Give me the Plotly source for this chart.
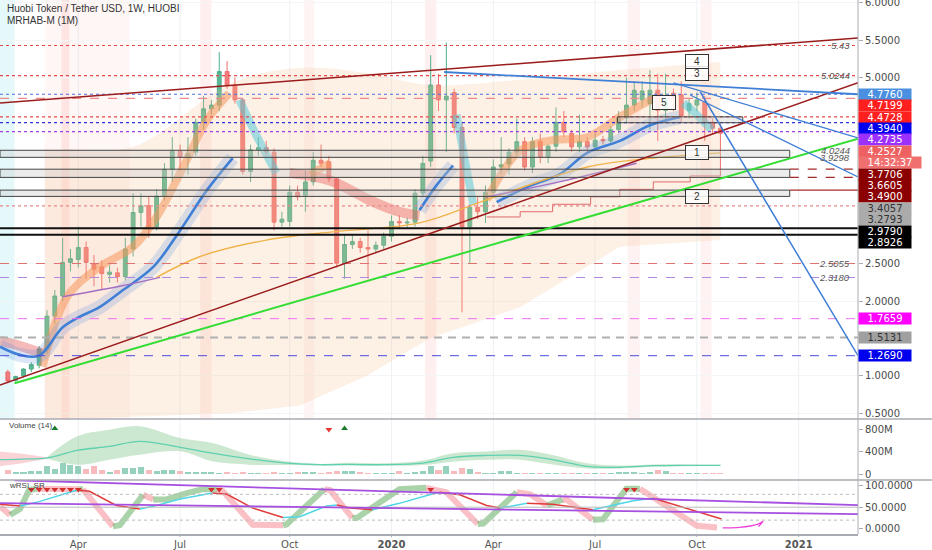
import pandas as pd
import plotly.graph_objects as go

# ---------------- weekly candles HT/USDT (Huobi) ----------------
candle_dates = pd.date_range('2019-01-28', periods=92, freq='7D')
opens = [1.05, 0.94, 1.00, 1.09, 1.14, 1.35, 1.80, 2.07, 2.52, 2.56,
         2.72, 2.50, 2.46, 2.36, 2.38, 2.33, 2.70, 3.19, 3.28, 3.00,
         3.41, 3.77, 4.01, 3.93, 4.00, 4.40, 4.58, 4.63, 5.08, 4.90,
         4.70, 3.74, 4.03, 4.06, 4.00, 3.06, 3.07, 3.46, 3.42, 3.60,
         3.89, 3.87, 3.64, 2.51, 2.76, 2.80, 2.72, 2.70, 2.75, 2.87,
         3.07, 3.05, 3.06, 3.45, 3.88, 4.90, 4.70, 4.80, 4.33, 3.00,
         3.26, 3.20, 3.46, 3.80, 3.84, 4.00, 4.14, 3.80, 4.14, 3.93,
         4.08, 4.40, 4.25, 4.07, 4.14, 4.07, 4.17, 4.15, 4.30, 4.46,
         4.63, 4.70, 4.65, 4.83, 4.56, 4.79, 4.77, 4.56, 4.63, 4.67,
         4.40, 4.32]
highs = [1.08, 1.00, 1.10, 1.18, 1.40, 1.88, 2.15, 2.85, 2.70, 3.00,
         2.80, 2.62, 2.55, 2.48, 2.45, 2.85, 3.45, 3.45, 3.40, 3.50,
         3.85, 4.20, 4.10, 4.20, 4.45, 4.75, 4.70, 5.34, 5.22, 5.00,
         4.72, 4.10, 4.20, 4.15, 4.05, 3.20, 3.55, 3.55, 3.75, 4.00,
         4.10, 3.95, 3.66, 2.90, 2.90, 2.85, 2.95, 2.80, 2.92, 3.15,
         3.15, 3.12, 3.50, 3.95, 5.30, 5.05, 5.47, 4.85, 4.40, 3.30,
         3.40, 3.55, 3.90, 4.20, 4.05, 4.45, 4.20, 4.20, 4.25, 4.10,
         4.60, 4.55, 4.30, 4.50, 4.20, 4.25, 4.22, 4.35, 4.55, 5.00,
         4.95, 4.95, 5.10, 5.05, 5.05, 4.85, 4.95, 4.72, 4.80, 4.75,
         4.45, 4.38]
lows = [0.90, 0.92, 0.98, 1.05, 1.10, 1.30, 1.70, 2.00, 2.40, 2.45,
        2.30, 2.20, 2.15, 2.25, 2.25, 2.28, 2.60, 3.00, 2.85, 2.95,
        3.35, 3.60, 3.75, 3.70, 3.95, 4.30, 4.50, 4.55, 4.85, 4.65,
        3.70, 3.60, 3.95, 3.95, 2.95, 3.00, 3.00, 3.35, 3.20, 3.55,
        3.80, 3.60, 2.45, 2.30, 2.70, 2.65, 2.30, 2.65, 2.70, 2.80,
        2.98, 2.98, 3.00, 3.40, 3.80, 4.55, 4.00, 4.25, 1.85, 2.50,
        3.10, 3.05, 3.40, 3.70, 3.70, 3.95, 3.75, 3.72, 3.85, 3.85,
        4.00, 4.20, 4.00, 4.00, 4.00, 4.02, 4.10, 4.12, 4.25, 4.40,
        4.55, 4.60, 4.30, 4.15, 4.40, 4.55, 4.40, 4.45, 4.55, 4.15,
        4.25, 3.68]
closes = [0.93, 0.99, 1.09, 1.15, 1.36, 1.80, 2.07, 2.52, 2.57, 2.72,
          2.52, 2.43, 2.37, 2.39, 2.33, 2.70, 3.19, 3.28, 3.00, 3.41,
          3.77, 4.01, 3.93, 3.98, 4.40, 4.58, 4.63, 5.08, 4.90, 4.70,
          3.74, 4.03, 4.06, 4.00, 3.06, 3.10, 3.46, 3.40, 3.60, 3.89,
          3.85, 3.65, 2.51, 2.76, 2.80, 2.72, 2.70, 2.75, 2.87, 3.07,
          3.05, 3.06, 3.45, 3.85, 4.90, 4.70, 4.75, 4.33, 3.00, 3.26,
          3.20, 3.46, 3.80, 3.83, 4.00, 4.14, 3.80, 4.14, 3.93, 4.08,
          4.40, 4.27, 4.07, 4.14, 4.07, 4.16, 4.15, 4.30, 4.46, 4.63,
          4.83, 4.82, 4.83, 4.56, 4.70, 4.73, 4.49, 4.65, 4.70, 4.40,
          4.32, 4.2527]
volumes_m = [65, 35, 35, 60, 60, 135, 95, 195, 165, 135,
             95, 135, 75, 35, 75, 105, 105, 125, 75, 47,
             65, 65, 53, 35, 35, 30, 30, 18, 30, 18,
             35, 25, 25, 25, 35, 25, 25, 35, 35, 35,
             25, 30, 47, 60, 47, 30, 18, 18, 18, 25,
             47, 18, 35, 47, 135, 75, 135, 47, 105, 90,
             30, 24, 24, 47, 47, 24, 12, 12, 12, 12,
             24, 12, 12, 12, 12, 12, 12, 24, 35, 35,
             30, 24, 35, 65, 47, 24, 18, 18, 18, 18,
             18, 18]

# ---------------- overlay indicators ----------------
band_dates = ['2019-03-02', '2019-03-22', '2019-05-20', '2019-08-17', '2019-10-16',
              '2019-12-15', '2020-02-09', '2020-04-30', '2020-07-28', '2020-10-26']
band_upper = [4.03, 4.03, 4.07, 4.93, 5.13, 5.06, 4.90, 4.97, 5.10, 5.21]
band_lower = [0.42, 0.42, 0.45, 0.50, 0.60, 1.00, 1.50, 1.92, 2.73, 2.82]

blue_dates = ['2019-01-21', '2019-02-08', '2019-02-25', '2019-03-18', '2019-04-02', '2019-04-20',
              '2019-05-11', '2019-06-07', '2019-07-01', '2019-07-25', '2019-08-17', None,
              '2020-01-31', '2020-02-15', '2020-03-01', None,
              '2020-04-09', '2020-05-09', '2020-06-04', '2020-06-29', '2020-07-28', '2020-08-24', '2020-09-20']
blue_ma = [1.39, 1.28, 1.27, 1.65, 1.79, 1.92, 2.15, 2.46, 2.95, 3.49, 3.92, None,
           3.22, 3.55, 3.82, None,
           3.33, 3.55, 3.70, 3.99, 4.15, 4.36, 4.47]

orange_dates = ['2019-02-28', '2019-03-22', '2019-04-20', '2019-05-20', '2019-06-10', '2019-07-07',
                '2019-07-25', '2019-08-14', None, '2019-10-25', '2019-11-12', None,
                '2020-03-31', '2020-04-30', '2020-05-29', '2020-06-29', '2020-07-28', '2020-08-27']
orange_ma = [1.12, 2.06, 2.46, 2.73, 3.13, 3.90, 4.43, 4.79, None, 3.70, 3.85, None,
             3.36, 4.02, 4.16, 4.20, 4.47, 4.72]

cyan_dates = ['2019-08-23', '2019-09-08', '2019-09-25', None, '2020-03-04', '2020-03-19', None,
              '2020-09-23', '2020-10-05', '2020-10-18']
cyan_ma = [4.70, 4.20, 3.72, None, 4.50, 3.30, None, 4.66, 4.50, 4.30]

red_dates = ['2019-01-21', '2019-02-08', '2019-02-28', None,
             '2019-10-07', '2019-11-12', '2019-12-18', '2020-01-13', '2020-01-31']
red_ma = [1.47, 1.40, 1.30, None, 3.72, 3.62, 3.35, 3.20, 3.15]

yellow_dates = ['2019-06-10', '2019-07-19', '2019-09-16', '2019-11-14', '2020-01-31',
                '2020-03-31', '2020-06-29', '2020-08-27', '2020-10-26']
yellow_ma = [2.32, 2.60, 2.82, 2.93, 3.05, 3.36, 3.80, 3.92, 3.99]

purple_dates = ['2019-03-18', '2019-05-08', '2019-06-13', None, '2020-03-31', '2020-06-04', '2020-08-12']
purple_ma = [2.06, 2.20, 2.32, None, 3.40, 3.60, 3.85]

step_dates = ['2020-03-31', '2020-04-30', '2020-05-29', '2020-07-02', '2020-07-28',
              '2020-08-27', '2020-09-29', '2020-10-26']
step_line = [3.13, 3.20, 3.30, 3.40, 3.50, 3.60, 3.68, 3.72]

# ---------------- drawings ----------------
level_values = [5.43, 5.0244, 4.7760, 4.7199, 4.4728, 4.3940, 4.2735, 3.2793,
                2.9790, 2.8926, 2.5055, 2.3180, 1.7659, 1.5131, 1.2690]
box_levels = [(4.0244, 3.9298), (3.7706, 3.6605), (3.4900, 3.4057)]
trend_lines = [  # (date0, value0, date1, value1)
    ('2019-01-21', 4.66, '2021-02-26', 5.53),
    ('2019-01-21', 0.876, '2021-02-26', 4.93),
    ('2019-02-03', 0.90, '2021-02-26', 4.18),
    ('2020-02-22', 5.074, '2021-02-26', 4.776),
    ('2020-09-14', 4.93, '2021-02-26', 4.19),
    ('2020-09-29', 4.766, '2021-02-26', 3.666),
    ('2020-10-08', 4.806, '2021-02-26', 1.269),
]
callout_text = ['1', '2', '3', '4', '5']
callout_dates = ['2020-10-05', '2020-10-05', '2020-10-05', '2020-10-05', '2020-09-06']
callout_values = [4.00, 3.41, 5.05, 5.21, 4.67]
note_text = ['5.43', '5.0244', '4.0244', '3.9298', '2.5055', '2.3180']

tag_text = ['4.7760', '4.7199', '4.4728', '4.3940', '4.2735', '4.2527', '14:32:37',
            '3.7706', '3.6605', '3.4900', '3.4057', '3.2793', '2.9790', '2.8926',
            '1.7659', '1.5131', '1.2690']
tag_values = [4.7760, 4.7199, 4.4728, 4.3940, 4.2735, 4.2527, 4.2527,
              3.7706, 3.6605, 3.4900, 3.4057, 3.2793, 2.9790, 2.8926,
              1.7659, 1.5131, 1.2690]

# ---------------- volume MA ----------------
vma_dates = ['2019-01-21', '2019-02-10', '2019-03-04', '2019-03-31', '2019-04-29', '2019-05-26',
             '2019-07-01', '2019-07-30', '2019-09-01', '2019-10-04', '2019-11-03', '2019-11-27',
             '2019-12-29', '2020-02-03', '2020-03-01', '2020-03-31', '2020-04-30', '2020-05-29',
             '2020-06-29', '2020-07-28', '2020-08-27', '2020-09-26', '2020-10-26']
vma = [255, 265, 285, 420, 490, 580, 475, 370, 270, 195, 165, 170, 165, 195, 296, 330, 330,
       255, 136, 120, 148, 155, 155]
vma_upper = [400, 360, 300, 670, 788, 850, 640, 551, 343, 225, 180, 200, 190, 240, 370, 400,
             430, 340, 190, 150, 170, 170, 165]
vma_lower = [137, 190, 270, 165, 255, 343, 403, 225, 166, 160, 150, 150, 145, 160, 220, 255,
             255, 170, 100, 100, 130, 140, 145]

# ---------------- wRSI_SR ----------------
rsi_slow_dates = ['2019-01-21', '2019-02-08', '2019-02-25', '2019-03-31', '2019-04-11', '2019-05-05',
                  '2019-05-26', '2019-06-07', '2019-07-01', '2019-07-30', '2019-08-12', '2019-09-04',
                  '2019-10-01', '2019-10-16', '2019-11-09', '2019-11-18', '2019-11-30', '2019-12-20',
                  '2020-01-13', '2020-02-09', '2020-02-18', '2020-03-07', '2020-03-31', '2020-04-12',
                  '2020-05-06', '2020-05-29', '2020-07-04', '2020-08-09', '2020-08-27', '2020-09-26',
                  '2020-10-27']
rsi_slow = [57, 53, 63, 90, 87, 54, 46, 52, 69, 83, 80, 48, 26, 28, 53, 55, 48, 44,
            59, 79, 85, 79, 54, 48, 59, 57, 44, 65, 71, 48, 22.5]
rsi_fast_dates = ['2019-01-21', '2019-01-30', '2019-02-08', '2019-02-16', '2019-02-23', '2019-04-02',
                  '2019-04-05', '2019-05-02', '2019-05-08', '2019-05-29', '2019-06-07', '2019-06-19',
                  '2019-07-07', '2019-07-21', '2019-08-03', '2019-08-08', '2019-09-04', '2019-10-01',
                  '2019-10-04', '2019-11-07', '2019-11-12', '2019-12-02', '2019-12-06', '2020-01-13',
                  '2020-02-06', '2020-02-24', '2020-03-23', '2020-03-28', '2020-04-27', '2020-05-09',
                  '2020-05-24', '2020-06-07', '2020-06-11', '2020-07-04', '2020-07-13', '2020-08-03',
                  '2020-08-15', '2020-10-05', '2020-10-23']
rsi_fast = [52, 32, 46, 90, 93, 92, 92, 5.5, 8, 79, 68, 68, 83, 92, 92, 88, 9, 8, 10, 92, 90,
            25, 25, 92, 95, 85, 11, 12, 85, 80, 54, 68, 67, 21, 22, 93, 93, 7, 3]
rsi_trend = [('2019-02-03', 112.7, '2021-02-26', 55.0),
             ('2019-01-21', 59.5, '2021-02-26', 34.0)]
ob_dates = ['2019-02-18', '2019-02-25', '2019-03-04', '2019-03-11', '2019-03-18', '2019-03-25',
            '2019-04-01', '2019-07-29', '2019-08-05', '2020-02-10', '2020-08-03', '2020-08-10']
sig_up_dates = ['2019-03-11', '2019-11-25']
sig_dn_dates = ['2019-11-11']
pen_dates = ['2020-10-28', '2020-11-12', '2020-11-28', '2020-12-03', '2020-11-29']
pen_values = [2, 3, 10, 17, 5]

tick_dates = ['2019-04-01', '2019-07-01', '2019-10-07', '2020-01-06',
              '2020-04-06', '2020-07-06', '2020-10-05', '2021-01-04']
tick_text = ['Apr', 'Jul', 'Oct', '<b>2020</b>', 'Apr', 'Jul', 'Oct', '<b>2021</b>']

# ---------------- geometry ----------------
Y_LO, Y_HI = 0.42, 6.04
MAIN_PX = 419.0
MAIN_DOM = [115 / 534, 1]
VOL_DOM = [56 / 534, 114 / 534]
RSI_DOM = [0, 54 / 534]
FONT = 'Liberation Sans'


def to_px(v):
    return (Y_HI - v) * MAIN_PX / (Y_HI - Y_LO)


def to_val(p):
    return Y_HI - p * (Y_HI - Y_LO) / MAIN_PX


fig = go.Figure()

# peach cloud
fig.add_trace(go.Scatter(x=band_dates, y=band_lower, mode='lines', line=dict(width=0),
                         hoverinfo='skip'))
fig.add_trace(go.Scatter(x=band_dates, y=band_upper, mode='lines', line=dict(width=0, shape='spline'),
                         fill='tonexty', fillcolor='rgba(244,190,140,0.22)', hoverinfo='skip'))


def ribbon(xs, ys, color, width, dash=None, shape='spline'):
    fig.add_trace(go.Scatter(x=xs, y=ys, mode='lines', connectgaps=False, hoverinfo='skip',
                             line=dict(color=color, width=width, shape=shape, dash=dash)))


ribbon(red_dates, red_ma, 'rgba(232,90,90,0.42)', 10)
ribbon(orange_dates, orange_ma, 'rgba(245,150,90,0.55)', 8)
ribbon(cyan_dates, cyan_ma, 'rgba(90,200,215,0.55)', 8)
ribbon(blue_dates, blue_ma, 'rgba(90,140,220,0.22)', 14)
ribbon(blue_dates, blue_ma, '#3f7fd6', 2.6)
ribbon(yellow_dates, yellow_ma, '#f0b44a', 1.4)
ribbon(purple_dates, purple_ma, '#a36fc2', 1.4)
ribbon(step_dates, step_line, '#e06a6a', 1, shape='hv')

fig.add_trace(go.Candlestick(
    x=candle_dates, open=opens, high=highs, low=lows, close=closes,
    increasing=dict(line=dict(color='#4fae8c', width=1), fillcolor='#5cb894'),
    decreasing=dict(line=dict(color='#ef6b6b', width=1), fillcolor='#f07d7d'),
    whiskerwidth=0, hoverinfo='skip'))

# volume pane
vol_colors = ['rgba(80,178,145,0.6)' if c >= o else 'rgba(240,120,125,0.5)'
              for o, c in zip(opens, closes)]
fig.add_trace(go.Bar(x=candle_dates, y=volumes_m, marker=dict(color=vol_colors, line=dict(width=0)),
                     width=5.4 * 86400000, yaxis='y2', hoverinfo='skip'))
fig.add_trace(go.Scatter(x=vma_dates[:3], y=vma_lower[:3], mode='lines', line=dict(width=0),
                         yaxis='y2', hoverinfo='skip'))
fig.add_trace(go.Scatter(x=vma_dates[:3], y=vma_upper[:3], mode='lines', line=dict(width=0),
                         fill='tonexty', fillcolor='rgba(240,130,140,0.35)', yaxis='y2', hoverinfo='skip'))
fig.add_trace(go.Scatter(x=vma_dates[2:], y=vma_lower[2:], mode='lines', line=dict(width=0, shape='spline'),
                         yaxis='y2', hoverinfo='skip'))
fig.add_trace(go.Scatter(x=vma_dates[2:], y=vma_upper[2:], mode='lines', line=dict(width=0, shape='spline'),
                         fill='tonexty', fillcolor='rgba(110,190,120,0.35)', yaxis='y2', hoverinfo='skip'))
fig.add_trace(go.Scatter(x=vma_dates, y=vma, mode='lines', line=dict(color='#5fd0b0', width=1.3, shape='spline'),
                         yaxis='y2', hoverinfo='skip'))
fig.add_trace(go.Scatter(x=sig_up_dates, y=[810] * len(sig_up_dates), mode='markers',
                         marker=dict(symbol='triangle-up', size=6, color='#1b7a2a'), yaxis='y2', hoverinfo='skip'))
fig.add_trace(go.Scatter(x=sig_dn_dates, y=[790] * len(sig_dn_dates), mode='markers',
                         marker=dict(symbol='triangle-down', size=6, color='#e53935'), yaxis='y2', hoverinfo='skip'))


# wRSI pane
def slope_lines(xs, ys, up, down, width):
    cur, sx, sy = None, [xs[0]], [ys[0]]
    for i in range(1, len(xs)):
        c = up if ys[i] >= ys[i - 1] else down
        if cur is None:
            cur = c
        if c != cur:
            fig.add_trace(go.Scatter(x=sx, y=sy, mode='lines', yaxis='y3', hoverinfo='skip',
                                     line=dict(color=cur, width=width)))
            sx, sy, cur = [xs[i - 1]], [ys[i - 1]], c
        sx.append(xs[i])
        sy.append(ys[i])
    fig.add_trace(go.Scatter(x=sx, y=sy, mode='lines', yaxis='y3', hoverinfo='skip',
                             line=dict(color=cur, width=width)))


slope_lines(rsi_fast_dates, rsi_fast, 'rgba(100,175,100,0.55)', 'rgba(245,130,140,0.5)', 6)
slope_lines(rsi_slow_dates, rsi_slow, '#4fd6e8', '#e03c3c', 1.5)
fig.add_trace(go.Scatter(x=ob_dates, y=[91] * len(ob_dates), mode='markers',
                         marker=dict(symbol='triangle-down', size=6, color='#d32f2f'), yaxis='y3', hoverinfo='skip'))
fig.add_trace(go.Scatter(x=pen_dates, y=pen_values, mode='lines', yaxis='y3', hoverinfo='skip',
                         line=dict(color='#ee44dd', width=1.3, shape='spline')))

# ---------------- shapes ----------------
shapes = []
for t in tick_dates:
    shapes.append(dict(type='line', xref='x', yref='paper', x0=t, x1=t, y0=0, y1=1,
                       line=dict(color='#eef0f4', width=1), layer='below'))
    shapes.append(dict(type='line', xref='x', yref='paper', x0=t, x1=t, y0=0, y1=-3 / 534,
                       line=dict(color='#a8abb3', width=1)))
stripes = [('2019-01-21', '2019-02-03', 'rgba(150,230,240,0.25)'),
           ('2019-03-02', '2019-05-17', 'rgba(255,170,170,0.10)'),
           ('2019-03-17', '2019-03-24', 'rgba(255,150,150,0.18)'),
           ('2019-07-19', '2019-07-29', 'rgba(255,150,150,0.15)'),
           ('2019-10-20', '2019-10-29', 'rgba(255,150,150,0.10)'),
           ('2020-02-05', '2020-02-15', 'rgba(255,150,150,0.15)'),
           ('2020-08-04', '2020-08-15', 'rgba(255,150,150,0.12)'),
           ('2020-10-08', '2020-10-18', 'rgba(255,150,150,0.12)')]
for x0, x1, c in stripes:
    shapes.append(dict(type='rect', xref='x', yref='paper', x0=x0, x1=x1, y0=MAIN_DOM[0], y1=1,
                       fillcolor=c, line=dict(width=0), layer='below'))

level_style = [('#e84a4a', 'dot', 1.2), ('#e84a4a', 'dot', 1.2), ('#4a6fdc', 'dot', 1.2),
               ('#f08a8a', 'dash', 1.2), ('#e84a4a', 'dot', 1.2), ('#3030e0', 'dot', 1.2),
               ('#a040e0', 'dot', 1.2), ('#e88a8a', 'dot', 1.2), ('#111111', 'solid', 2),
               ('#111111', 'solid', 2), ('#e07070', 'dash', 1), ('#b088e0', 'dash', 1),
               ('#f070f0', 'dash', 1), ('#b0b0b0', '8px,6px', 2), ('#4a4ae0', 'dash', 1)]
for v, (c, d, w) in zip(level_values, level_style):
    shapes.append(dict(type='line', xref='paper', yref='y', x0=0, x1=1, y0=v, y1=v,
                       line=dict(color=c, dash=d, width=w)))

for top, bot in box_levels:
    shapes.append(dict(type='rect', xref='x', yref='y', x0='2019-01-21', x1='2020-12-27', y0=bot, y1=top,
                       fillcolor='rgba(200,200,200,0.35)', line=dict(color='#444', width=1)))
shapes.append(dict(type='rect', xref='x', yref='y', x0='2020-07-26', x1='2020-11-15', y0=4.394, y1=4.4728,
                   fillcolor='rgba(200,200,200,0.35)', line=dict(color='#444', width=1)))
for v, d in zip([3.7706, 3.6605, 3.49], ['dash', 'dash', 'solid']):
    shapes.append(dict(type='line', xref='x', yref='y', x0='2020-12-27', x1='2021-02-26', y0=v, y1=v,
                       line=dict(color='#a52a2a', dash=d, width=1.2)))

trend_style = [('#9b1c1c', 1.5), ('#9b1c1c', 1.5), ('#33dd33', 2), ('#3f7fd6', 1.8),
               ('#3f7fd6', 1.3), ('#3f7fd6', 1.3), ('#3f7fd6', 1.5)]
for (x0, y0, x1, y1), (c, w) in zip(trend_lines, trend_style):
    shapes.append(dict(type='line', xref='x', yref='y', x0=x0, y0=y0, x1=x1, y1=y1,
                       line=dict(color=c, width=w)))

for lv, d in zip([80, 50, 20], ['dot', 'solid', 'dot']):
    shapes.append(dict(type='line', xref='paper', yref='y3', x0=0, x1=1, y0=lv, y1=lv,
                       line=dict(color='#bbbbbb', width=1, dash=d)))
for x0, y0, x1, y1 in rsi_trend:
    shapes.append(dict(type='line', xref='x', yref='y3', x0=x0, y0=y0, x1=x1, y1=y1,
                       line=dict(color='#a64fe0', width=1.8)))

for yp in [MAIN_DOM[0], VOL_DOM[0] - 2 / 534]:
    shapes.append(dict(type='line', xref='paper', yref='paper', x0=0, x1=932 / 858, y0=yp, y1=yp,
                       line=dict(color='#a8abb3', width=1.5)))
shapes.append(dict(type='line', xref='paper', yref='paper', x0=1, x1=1, y0=0, y1=1,
                   line=dict(color='#a8abb3', width=1)))

# ---------------- annotations ----------------
ann = [dict(x=0.006, y=1 - 8 / 534, xref='paper', yref='paper', xanchor='left', yanchor='middle',
            text='Huobi Token / Tether USD, 1W, HUOBI', showarrow=False,
            font=dict(family=FONT, size=10, color='#333')),
       dict(x=0.006, y=1 - 21 / 534, xref='paper', yref='paper', xanchor='left', yanchor='middle',
            text='MRHAB-M (1M)', showarrow=False, font=dict(family=FONT, size=10, color='#333')),
       dict(x=0.008, y=(534 - 425) / 534, xref='paper', yref='paper', xanchor='left', yanchor='middle',
            text='Volume (14)', showarrow=False, font=dict(family=FONT, size=8, color='#444')),
       dict(x=0.008, y=(534 - 485) / 534, xref='paper', yref='paper', xanchor='left', yanchor='middle',
            text='wRSI_SR', showarrow=False, font=dict(family=FONT, size=8, color='#444'))]

for t, v in zip(note_text, [float(s) for s in note_text]):
    ann.append(dict(x=0.993, y=v, xref='paper', yref='y', xanchor='right', yanchor='middle',
                    text='<i>' + t + '</i>', showarrow=False, bgcolor='rgba(255,255,255,0)',
                    font=dict(family=FONT, size=9.5, color='#555')))

for t, xd, v in zip(callout_text, callout_dates, callout_values):
    ann.append(dict(x=xd, y=v, xref='x', yref='y', text=t, showarrow=False, width=20, height=11,
                    bgcolor='rgba(255,255,255,0.85)', bordercolor='#333', borderwidth=1, borderpad=1,
                    font=dict(family=FONT, size=10, color='#333')))

tag_style = [('#4a8fe0', 'white'), ('#ff1f1f', 'white'), ('#ff1f1f', 'white'), ('#0000ee', 'white'),
             ('#9b30ff', 'white'), ('#ef6060', 'white'), ('#f07070', 'white'), ('#8b0000', 'white'),
             ('#8b0000', 'white'), ('#8b0000', 'white'), ('#ababab', '#333'), ('#ababab', '#333'),
             ('#000000', 'white'), ('#000000', 'white'), ('#ff00ff', 'white'), ('#a0a0a0', '#333'),
             ('#0000ee', 'white')]
prev = -1e9
for t, v, (bg, fg) in zip(tag_text, tag_values, tag_style):
    p = max(to_px(v), prev + 11.4)
    prev = p
    ann.append(dict(x=1, y=to_val(p), xref='paper', yref='y', xanchor='left', yanchor='middle',
                    text=t, showarrow=False, bgcolor=bg, width=62 if ':' in t else 52, height=11,
                    borderpad=0, font=dict(family='DejaVu Sans', size=10, color=fg)))

main_ticks = [0.5, 1.0, 2.0, 2.5, 5.0, 5.5, 6.0]

fig.update_layout(
    width=932, height=550, margin=dict(l=0, r=74, t=0, b=16, autoexpand=False),
    paper_bgcolor='white', plot_bgcolor='white', showlegend=False,
    font=dict(family='DejaVu Sans', size=10, color='#4a4a4a'),
    shapes=shapes, annotations=ann, bargap=0,
    xaxis=dict(type='date', range=['2019-01-21', '2021-02-26'], anchor='y3', rangeslider=dict(visible=False),
               showgrid=False, tickvals=tick_dates, ticktext=tick_text, ticks='', automargin=False,
               showline=True, linecolor='#a8abb3', linewidth=1.5,
               tickfont=dict(family='DejaVu Sans', size=10, color='#555')),
    yaxis=dict(domain=MAIN_DOM, range=[Y_LO, Y_HI], side='right', anchor='x', tickvals=main_ticks,
               ticktext=['%.4f' % v for v in main_ticks], ticks='outside', ticklen=4, tickcolor='#a8abb3',
               showgrid=True, gridcolor='#f4f5f7', zeroline=False, ticklabeloverflow='allow',
               automargin=False),
    yaxis2=dict(domain=VOL_DOM, range=[-71, 960], side='right', anchor='x', tickvals=[0, 400, 800],
                ticktext=['0', '400M', '800M'], ticks='outside', ticklen=4, tickcolor='#a8abb3',
                showgrid=False, zeroline=False, automargin=False),
    yaxis3=dict(domain=RSI_DOM, range=[-12.3, 113.3], side='right', anchor='x', tickvals=[0, 50, 100],
                ticktext=['0.0000', '50.0000', '100.0000'], ticks='outside', ticklen=4, tickcolor='#a8abb3',
                showgrid=False, zeroline=False, ticklabeloverflow='allow', automargin=False),
)

# page body margin would otherwise push the 932x550 figure out of the window
fig.write_html('out.html', config={'displayModeBar': False},
               post_script="document.body.style.margin='0px';")
